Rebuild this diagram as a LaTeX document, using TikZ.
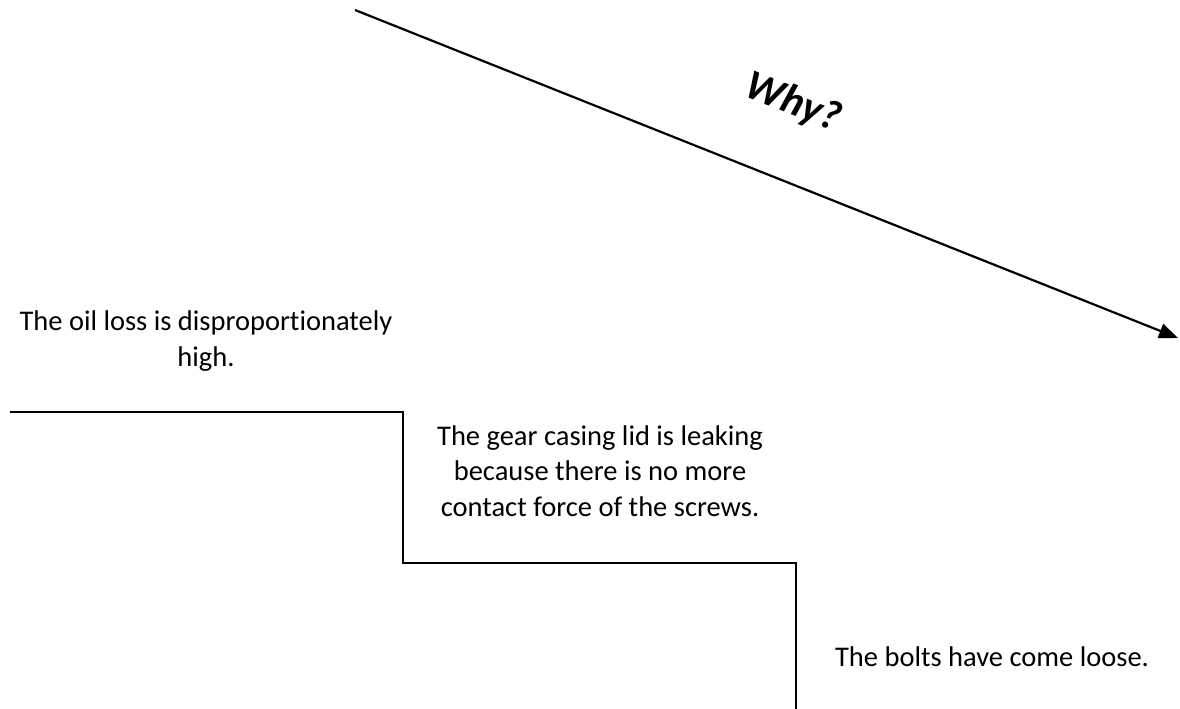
\documentclass[tikz,border=0pt]{standalone}
\usepackage{fontspec}
\setmainfont{Carlito}[Ligatures=NoCommon]
\usepackage{tikz}
\usetikzlibrary{arrows.meta}

\begin{document}
\begin{tikzpicture}[x=1pt, y=1pt,
  causa/.style={align=center, inner sep=0pt, font=\fontsize{28.5}{35.5}\selectfont},
  escalon/.style={line width=2.2pt},
  flecha/.style={-{Triangle[length=19pt, width=15pt]}, line width=2.2pt},
  porque/.style={font=\fontsize{42}{46}\selectfont\bfseries\itshape, rotate=-21.7}]
\useasboundingbox (0,0) rectangle (1180,709);
% staircase corners
\coordinate (s0) at (10,297);
\coordinate (s1) at (403,297);
\coordinate (s2) at (403,146);
\coordinate (s3) at (796,146);
\coordinate (s4) at (796,0);
% arrow ends
\coordinate (inicio) at (355,699);
\coordinate (fin) at (1178,371);
\node[causa] (c1) at (206,368) {The oil loss is disproportionately\\ high.};
\node[causa] (c2) at (600,238) {The gear casing lid is leaking\\ because there is no more\\ contact force of the screws.};
\node[causa] (c3) at (992,52) {The bolts have come loose.};
\node[porque] (why) at (793,606) {Why?};
\draw[escalon] (s0) -- (s1) -- (s2) -- (s3) -- (s4);
\draw[flecha] (inicio) -- (fin);
\end{tikzpicture}
\end{document}
